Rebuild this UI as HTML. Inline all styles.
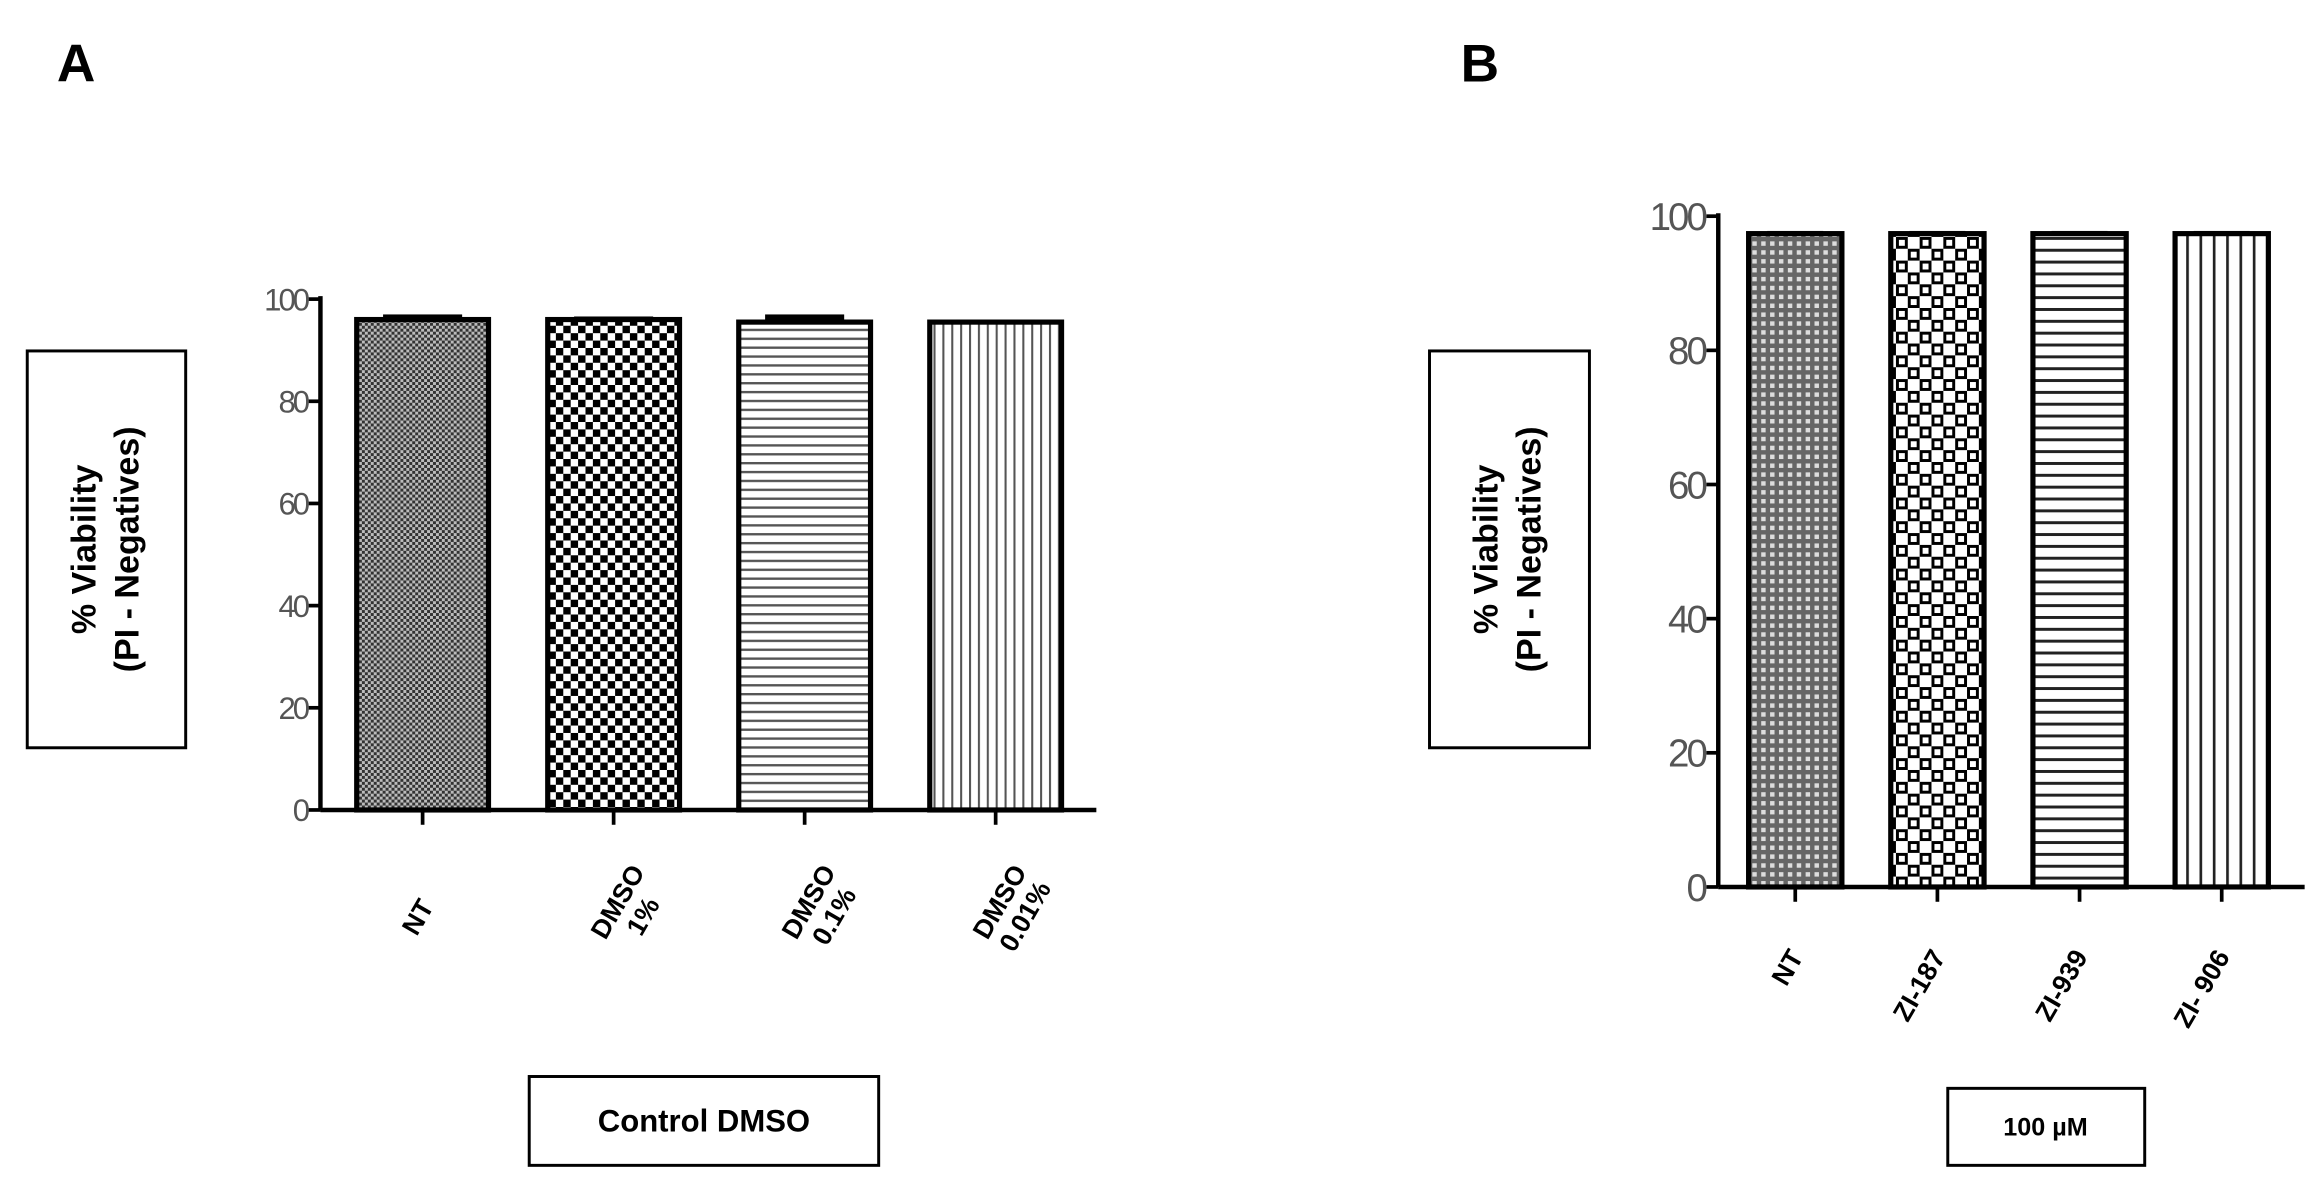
<!DOCTYPE html>
<html><head><meta charset="utf-8"><style>
html,body{margin:0;padding:0;background:#fff}
svg{display:block}
text{font-family:"Liberation Sans",sans-serif}
</style></head><body>
<svg id="fig" width="2323" height="1192" viewBox="0 0 1568 805">
<defs>
<pattern id="pA0" width="4" height="4" patternUnits="userSpaceOnUse"><rect width="4" height="4" fill="#bbb"/><rect width="2" height="2" fill="#333"/><rect x="2" y="2" width="2" height="2" fill="#333"/></pattern>
<pattern id="pChk" width="10" height="10" patternUnits="userSpaceOnUse"><rect width="10" height="10" fill="#fff"/><rect width="5" height="5" fill="#000"/><rect x="5" y="5" width="5" height="5" fill="#000"/></pattern>
<pattern id="pH" width="6" height="6" patternUnits="userSpaceOnUse"><rect width="6" height="6" fill="#fff"/><rect y="0" width="6" height="1.6" fill="#555"/></pattern>
<pattern id="pV" width="6" height="6" patternUnits="userSpaceOnUse"><rect width="6" height="6" fill="#fff"/><rect x="0" width="1.4" height="6" fill="#555"/></pattern>
<pattern id="pB0" width="6" height="6" patternUnits="userSpaceOnUse"><rect width="6" height="6" fill="#666"/><rect x="1" y="1" width="3" height="3" fill="#ddd"/></pattern>
<pattern id="pChkB" width="16" height="16" patternUnits="userSpaceOnUse"><rect width="16" height="16" fill="#fff"/><rect width="8" height="8" fill="#000"/><rect x="8" y="8" width="8" height="8" fill="#000"/><rect x="2" y="2" width="4" height="4" fill="#fff"/><rect x="10" y="10" width="4" height="4" fill="#fff"/></pattern>
<pattern id="pHB" width="8" height="8" patternUnits="userSpaceOnUse"><rect width="8" height="8" fill="#fff"/><rect width="8" height="2" fill="#222"/></pattern>
<pattern id="pVB" width="9" height="9" patternUnits="userSpaceOnUse"><rect width="9" height="9" fill="#fff"/><rect width="1.8" height="9" fill="#222"/></pattern>
</defs>
<text x="38" y="55" font-size="36" font-weight="bold">A</text>
<text x="986" y="55" font-size="36" font-weight="bold">B</text>
<g id="chartA"></g>
<g id="chartB"></g>
</svg>
<script>
const catsA = ["NT", "DMSO|1%", "DMSO|0.1%", "DMSO|0.01%"];
const valsA = [96, 96, 95.5, 95.5];
const errsA = [1, 0.6, 1.5, 0.5];
const catsB = ["NT", "ZI-187", "ZI-939", "ZI- 906"];
const valsB = [97.4, 97.4, 97.4, 97.4];
const errsB = [0.4, 0.4, 0.4, 0.4];
const ticks = [0, 20, 40, 60, 80, 100];
const NS = "http://www.w3.org/2000/svg";
function mk(parent, tag, attrs){const e=document.createElementNS(NS,tag);for(const k in attrs)e.setAttribute(k,attrs[k]);parent.appendChild(e);return e;}

function draw(g, cfg, cats, vals, errs, fills){
  const y = v => cfg.y0 - (cfg.y0 - cfg.y100) * v / 100;
  const xc = i => cfg.first + i * cfg.step;
  const ax = mk(g,"line",{x1:cfg.ax,y1:cfg.y100-2,x2:cfg.ax,y2:cfg.y0,stroke:"#000","stroke-width":3});
  
  
  const bx = mk(g,"line",{x1:cfg.ax,y1:cfg.y0,x2:cfg.xend,y2:cfg.y0,stroke:"#000","stroke-width":3});
  
  
  ticks.forEach(t=>{
    const tl = mk(g,"line",{x1:cfg.ax-8,y1:y(t),x2:cfg.ax,y2:y(t),stroke:"#000","stroke-width":2.5});
    
    
    const tx = mk(g,"text",{x:cfg.ax-9,y:y(t)+cfg.fs*0.36,"text-anchor":"end","font-size":cfg.fs,fill:"#555","letter-spacing":-2});
    tx.textContent = t;
    
    
  });
  cats.forEach((c,i)=>{
    const x = xc(i), top = y(vals[i]);
    const eb = mk(g,"rect",{x:x-cfg.w*0.3,y:y(vals[i]+errs[i]),width:cfg.w*0.6,height:Math.max(2,top-y(vals[i]+errs[i])),fill:"#000"});
    
    
    const r = mk(g,"rect",{x:x-cfg.w/2,y:top,width:cfg.w,height:cfg.y0-top,fill:"url(#"+fills[i]+")",stroke:"#000","stroke-width":3.5});
    
    
    const xt = mk(g,"line",{x1:x,y1:cfg.y0,x2:x,y2:cfg.y0+10,stroke:"#000","stroke-width":2.5});
    
    
    const lines = c.split("|");
    const t = mk(g,"text",{transform:`translate(${x+cfg.lx},${cfg.ly}) rotate(-60)`,"text-anchor":"end","font-size":cfg.lfs,"font-weight":"bold"});
    lines.forEach((l,j)=>{const s=mk(t,"tspan",{x:0,dy:j?cfg.lfs*1.1:0,"text-anchor":lines.length>1?"middle":"end"});s.textContent=l;});
    
    
  });
}
const gA=document.getElementById("chartA"), gB=document.getElementById("chartB");
draw(gA,{ax:216,y100:202,y0:547,xend:740,first:285,step:129,w:89,fs:21,lfs:18,lx:8,ly:612},catsA,valsA,errsA,["pA0","pChk","pH","pV"]);
draw(gB,{ax:1160,y100:146,y0:599,xend:1556,first:1212,step:96,w:63,fs:26,lfs:18,lx:6,ly:646},catsB,valsB,errsB,["pB0","pChkB","pHB","pVB"]);
function box(g,x,y,w,h,name){const r=mk(g,"rect",{x:x,y:y,width:w,height:h,fill:"#fff",stroke:"#000","stroke-width":2});}
box(gA,18,237,107,268,"y-axis-title-box-a");
box(gB,965,237,108,268,"y-axis-title-box-b");
function ytitle(g,cx,cy,name){const t=mk(g,"text",{transform:`translate(${cx},${cy}) rotate(-90)`,"text-anchor":"middle","font-size":23,"font-weight":"bold"});
 const a=mk(t,"tspan",{x:0,dy:-6});a.textContent="% Viability";const b=mk(t,"tspan",{x:0,dy:29});b.textContent="(PI - Negatives)";
 }
ytitle(gA,70,371,"y-axis-title-a");
ytitle(gB,1017,371,"y-axis-title-b");
box(gA,357,727,236,60,"x-axis-title-box-a");
box(gB,1315,735,133,52,"x-axis-title-box-b");
let t1=mk(gA,"text",{x:475,y:764,"text-anchor":"middle","font-size":21,"font-weight":"bold"});t1.textContent="Control DMSO";


let t2=mk(gB,"text",{x:1381,y:767,"text-anchor":"middle","font-size":17,"font-weight":"bold"});t2.textContent="100 µM";


</script>
</body></html>
